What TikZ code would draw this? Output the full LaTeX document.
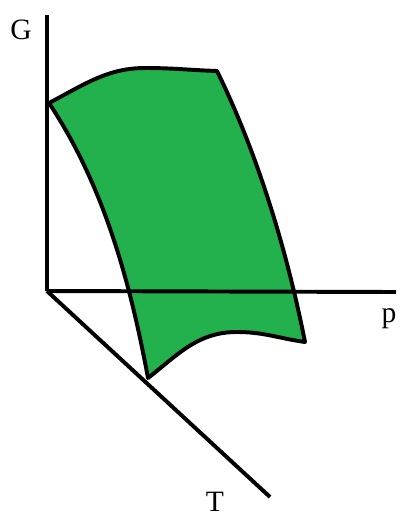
\documentclass[tikz,border=0pt]{standalone}
\usepackage{fontspec}
\setmainfont{Liberation Serif}
\usetikzlibrary{positioning}
\definecolor{paintgreen}{RGB}{34,177,76}

\begin{document}
\begin{tikzpicture}[
    x=0.025cm, y=-0.025cm,
    axis/.style={line width=2.8pt},
    region/.style={fill=paintgreen, draw=black, line width=2.8pt, line join=round},
    label/.style={font=\fontsize{21}{24}\selectfont, inner sep=0pt}
]
\useasboundingbox (0,0) rectangle (400,516);

% Points
\coordinate (origin) at (47,291);
\coordinate (gtop) at (47,15);
\coordinate (pend) at (396,292);
\coordinate (tend) at (270,497);

% Surface
\draw [region] (49,103) .. controls (85,84) and (108,68) .. (145,68)
    to[out=0, in=178] (217,71)
    .. controls (252,142) and (284,236) .. (305,342)
    to[out=172, in=0] (237,332)
    to[out=180, in=38] (148,378)
    .. controls (128,270) and (100,180) .. (49,103) -- cycle;

% Axes
\draw [axis] (gtop) -- (origin);
\draw [axis] (origin) -- (pend);
\draw [axis] (origin) -- (tend);

% Labels
\node (glabel) [label, anchor=base] at (21,39) {G};
\node (plabel) [label, anchor=base] at (389,322) {p};
\node (tlabel) [label, anchor=base] at (215,511) {T};

\end{tikzpicture}
\end{document}
